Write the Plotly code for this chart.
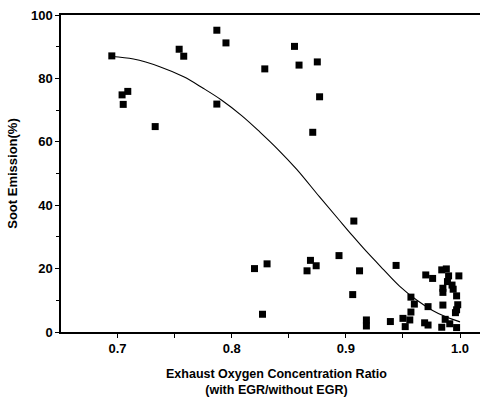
import plotly.graph_objects as go

ratio = [0.695, 0.704, 0.705, 0.709, 0.733, 0.754, 0.758, 0.787, 0.795, 0.787,
         0.829, 0.820, 0.831, 0.827, 0.855, 0.859, 0.875, 0.877, 0.871, 0.907,
         0.869, 0.874, 0.866, 0.894, 0.912, 0.906, 0.944, 0.918, 0.918, 0.939,
         0.950, 0.952, 0.956, 0.957, 0.960, 0.957, 0.970, 0.976, 0.972, 0.969,
         0.972, 0.984, 0.988, 0.990, 0.999, 0.989, 0.985, 0.985, 0.993, 0.994,
         0.997, 0.985, 0.998, 0.997, 0.996, 0.987, 0.991, 0.984, 0.997]
soot = [87.1, 74.8, 71.8, 75.9, 64.8, 89.2, 87.0, 95.2, 91.2, 71.9,
        83.0, 20.0, 21.5, 5.6, 90.1, 84.2, 85.2, 74.2, 63.0, 35.0,
        22.6, 20.9, 19.3, 24.1, 19.3, 11.8, 21.0, 3.8, 1.9, 3.3,
        4.3, 1.7, 3.8, 6.3, 8.8, 11.0, 18.0, 16.9, 8.0, 2.9,
        2.2, 19.6, 19.9, 17.7, 17.7, 15.9, 13.8, 12.5, 14.8, 13.5,
        11.4, 8.5, 8.6, 7.0, 6.1, 4.0, 2.6, 1.5, 1.4]

# Fitted trend curve
fit_x = [0.695, 0.714, 0.737, 0.758, 0.775, 0.791, 0.809, 0.825, 0.840, 0.857,
         0.877, 0.893, 0.906, 0.918, 0.933, 0.947, 0.962, 0.976, 0.988, 1.000]
fit_y = [86.9, 86.1, 83.7, 80.5, 76.9, 73.2, 68.2, 63.0, 57.8, 51.3,
         42.6, 35.8, 30.3, 25.4, 19.7, 14.5, 10.1, 6.8, 4.7, 3.2]

x_ticks = [0.7, 0.8, 0.9, 1.0]
x_labels = ["0.7", "0.8", "0.9", "1.0"]
y_ticks = [0, 20, 40, 60, 80, 100]

FONT = "Liberation Sans, Arial, sans-serif"

fig = go.Figure()
fig.add_trace(go.Scatter(x=fit_x, y=fit_y, mode="lines",
                         line=dict(color="black", width=1.1, shape="spline", smoothing=1.0),
                         hoverinfo="skip", showlegend=False))
fig.add_trace(go.Scatter(x=ratio, y=soot, mode="markers",
                         marker=dict(symbol="square", size=7, color="black"),
                         cliponaxis=False, showlegend=False))

fig.update_layout(
    width=481, height=400,
    margin=dict(l=61, r=1, t=15, b=68),
    paper_bgcolor="white", plot_bgcolor="white",
    font=dict(family=FONT, color="black", size=12),
    xaxis=dict(range=[0.6505, 1.0175], tickvals=x_ticks, ticktext=x_labels,
               ticks="outside", ticklen=4, tickwidth=1, tickcolor="black",
               minor=dict(tickvals=[0.75, 0.85, 0.95], ticks="outside", ticklen=4, tickcolor="black"),
               showline=True, linecolor="black", linewidth=1.5, mirror=True,
               showgrid=False, zeroline=False,
               tickfont=dict(family=FONT, size=13, weight="bold")),
    yaxis=dict(range=[0, 100], tickvals=y_ticks,
               ticks="outside", ticklen=4, tickwidth=1, tickcolor="black",
               minor=dict(dtick=10, ticks="outside", ticklen=3, tickcolor="black"),
               showline=True, linecolor="black", linewidth=1.5,
               showgrid=False, zeroline=False,
               title=dict(text="Soot Emission(%)", standoff=10,
                          font=dict(family=FONT, size=13, weight="bold")),
               tickfont=dict(family=FONT, size=13, weight="bold")),
)
fig.add_annotation(text="Exhaust Oxygen Concentration Ratio<br>(with EGR/without EGR)",
                   x=0.515, y=-0.105, xref="paper", yref="paper",
                   xanchor="center", yanchor="top", showarrow=False,
                   font=dict(family=FONT, size=12.5, weight="bold"))

fig.write_html("out.html")
